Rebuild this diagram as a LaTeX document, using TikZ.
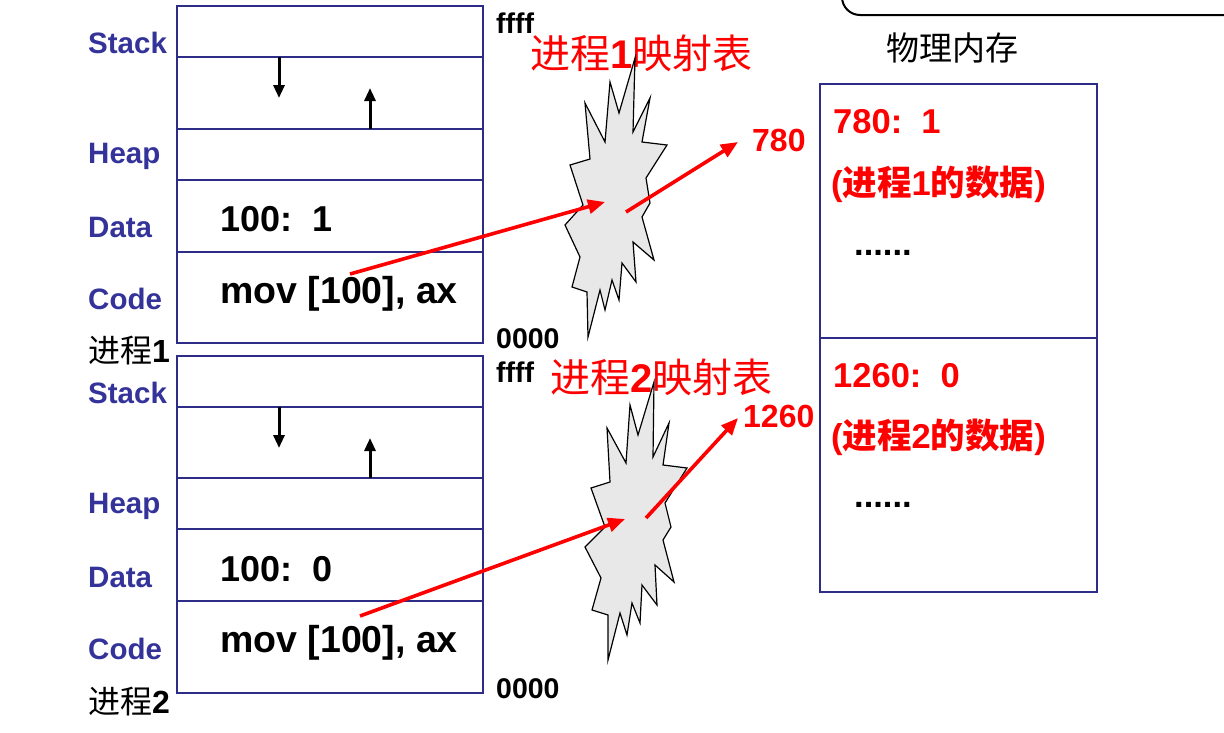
\documentclass[tikz,border=0pt]{standalone}
\usepackage{fontspec}
\setmainfont{Liberation Sans}
\newfontfamily\cjk{Noto Sans CJK SC}
\usetikzlibrary{arrows.meta}
\definecolor{navy}{RGB}{51,51,153}
\definecolor{boxline}{RGB}{45,45,135}
\definecolor{burstgray}{RGB}{232,232,232}
\definecolor{myred}{RGB}{255,0,0}
\newcommand{\fs}[1]{\fontsize{#1}{#1}\selectfont}
\tikzset{
  seg/.style={draw=boxline, line width=1.4pt, minimum width=306pt, inner sep=0, outer sep=0},
  membox/.style={draw=boxline, line width=1.4pt, minimum width=277pt, minimum height=254pt, inner sep=0, outer sep=0},
  seglab/.style={text=navy, font=\fs{29.5}\bfseries, anchor=base west, inner sep=0},
  proclab/.style={font=\fs{32}, anchor=base west, inner sep=0},
  datatxt/.style={font=\fs{36}\bfseries, anchor=base west, inner sep=0},
  codetxt/.style={font=\fs{37.5}\bfseries, anchor=base west, inner sep=0},
  addr/.style={font=\fs{28.5}\bfseries, anchor=base west, inner sep=0},
  maptitle/.style={text=myred, font=\fs{40}, anchor=base west, inner sep=0},
  memtxt/.style={text=myred, font=\fs{34.5}\bfseries, anchor=base west, inner sep=0},
  dots/.style={font=\fs{34.5}\bfseries, anchor=base west, inner sep=0},
  tgt/.style={text=myred, font=\fs{32}\bfseries, anchor=base west, inner sep=0},
  growarr/.style={line width=3pt, -{Triangle[length=13pt,width=11pt]}},
  redarr/.style={draw=myred, line width=3.6pt, -{Triangle[length=17pt,width=14pt]}},
  burst/.style={draw=black, line width=1.2pt, fill=burstgray, line join=miter},
}
\begin{document}
\begin{tikzpicture}[x=1pt,y=-1pt]
\useasboundingbox (0,0) rectangle (1224,732);
\clip (0,0) rectangle (1224,732);
\fill[white] (0,0) rectangle (1224,732);

% top rounded frame fragment
\draw[line width=2pt, rounded corners=18pt] (842,-40) -- (842,15) -- (1260,15);

% ---------- process 1 ----------
\node[seg, minimum height=51pt] (p1stack) at (330,31.5) {};
\node[seg, minimum height=72pt] (p1gap) at (330,93) {};
\node[seg, minimum height=51pt] (p1heap) at (330,154.5) {};
\node[seg, minimum height=72pt] (p1data) at (330,216) {};
\node[seg, minimum height=91pt] (p1code) at (330,297.5) {};

\node[seglab] (l1stack) at (88,53) {Stack};
\node[seglab] (l1heap) at (88,163) {Heap};
\node[seglab] (l1data) at (88,237) {Data};
\node[seglab] (l1code) at (88,309) {Code};
\node[proclab] (l1proc) at (88,362) {{\cjk 进程}\textbf{1}};

\draw[growarr] (p1gap.north west) ++(102,0) coordinate (d1s) -- ++(0,41) coordinate (d1e);
\draw[growarr] (p1gap.south west) ++(193,0) coordinate (u1s) -- ++(0,-41) coordinate (u1e);

\node[datatxt] (v1) at (220,231) {100:~~1};
\node[codetxt] (c1) at (220,303) {mov [100], ax};

\node[addr] (f1) at (496,33) {ffff};
\node[addr] (z1) at (496,348) {0000};

\node[maptitle] (t1) at (530,68) {{\cjk 进程}\textbf{1}{\cjk 映射表}};

% ---------- process 2 ----------
\node[seg, minimum height=51pt] (p2stack) at (330,381.5) {};
\node[seg, minimum height=71pt] (p2gap) at (330,442.5) {};
\node[seg, minimum height=51pt] (p2heap) at (330,503.5) {};
\node[seg, minimum height=72pt] (p2data) at (330,565) {};
\node[seg, minimum height=92pt] (p2code) at (330,647) {};

\node[seglab] (l2stack) at (88,403) {Stack};
\node[seglab] (l2heap) at (88,513) {Heap};
\node[seglab] (l2data) at (88,587) {Data};
\node[seglab] (l2code) at (88,659) {Code};
\node[proclab] (l2proc) at (88,713) {{\cjk 进程}\textbf{2}};

\draw[growarr] (p2gap.north west) ++(102,0) coordinate (d2s) -- ++(0,41) coordinate (d2e);
\draw[growarr] (p2gap.south west) ++(193,0) coordinate (u2s) -- ++(0,-40) coordinate (u2e);

\node[datatxt] (v2) at (220,581) {100:~~0};
\node[codetxt] (c2) at (220,652) {mov [100], ax};

\node[addr] (f2) at (496,382) {ffff};
\node[addr] (z2) at (496,698) {0000};

\node[maptitle] (t2) at (550,392) {{\cjk 进程}\textbf{2}{\cjk 映射表}};

% ---------- bursts ----------
\draw[burst] (635,58) -- (633,132) -- (650,98) -- (642,142) -- (667,145) -- (646,178)
  -- (650,203) -- (642,217) -- (654,260) -- (633,242) -- (636,282) -- (622,263)
  -- (619,300) -- (612,280) -- (605,310) -- (600,290) -- (588,337) -- (587,292)
  -- (572,287) -- (580,257) -- (565,225) -- (583,205) -- (570,165) -- (590,159)
  -- (585,103) -- (605,142) -- (610,82) -- (619,113) -- cycle;
\draw[burst] (654,382) -- (653,457) -- (669,423) -- (663,465) -- (687,468) -- (665,503)
  -- (671,527) -- (663,540) -- (674,582) -- (655,565) -- (657,605) -- (642,585)
  -- (640,623) -- (632,603) -- (627,635) -- (620,613) -- (608,660) -- (608,615)
  -- (592,610) -- (601,578) -- (585,547) -- (605,527) -- (591,488) -- (610,482)
  -- (607,428) -- (626,463) -- (630,405) -- (638,435) -- cycle;

\coordinate (b1in) at (605,202);
\coordinate (b1out) at (626,212);
\coordinate (b2in) at (625,519);
\coordinate (b2out) at (646,518);

% ---------- physical memory ----------
\node[font=\fs{33}, anchor=base west, inner sep=0] (pm) at (886,60) {\cjk 物理内存};
\node[membox] (m1) at (958.5,211) {};
\node[membox] (m2) at (958.5,465) {};

\node[memtxt] (m1a) at (833,133) {780:~~1};
\node[memtxt] (m1b) at (831,195) {({\cjk 进程}1{\cjk 的数据})};
\node[dots] (m1c) at (854,255) {......};
\node[memtxt] (m2a) at (833,387) {1260:~~0};
\node[memtxt] (m2b) at (831,448) {({\cjk 进程}2{\cjk 的数据})};
\node[dots] (m2c) at (854,507) {......};

\node[tgt] (a780) at (752,151) {780};
\node[tgt] (a1260) at (743,427) {1260};

% ---------- red mapping arrows ----------
\coordinate (c1src) at (350,274);
\coordinate (c2src) at (360,616);
\coordinate (a780tip) at (738,142);
\coordinate (a1260tip) at (738,418);
\draw[redarr] (c1src) -- (b1in);
\draw[redarr] (b1out) -- (a780tip);
\draw[redarr] (c2src) -- (b2in);
\draw[redarr] (b2out) -- (a1260tip);
\end{tikzpicture}
\end{document}
